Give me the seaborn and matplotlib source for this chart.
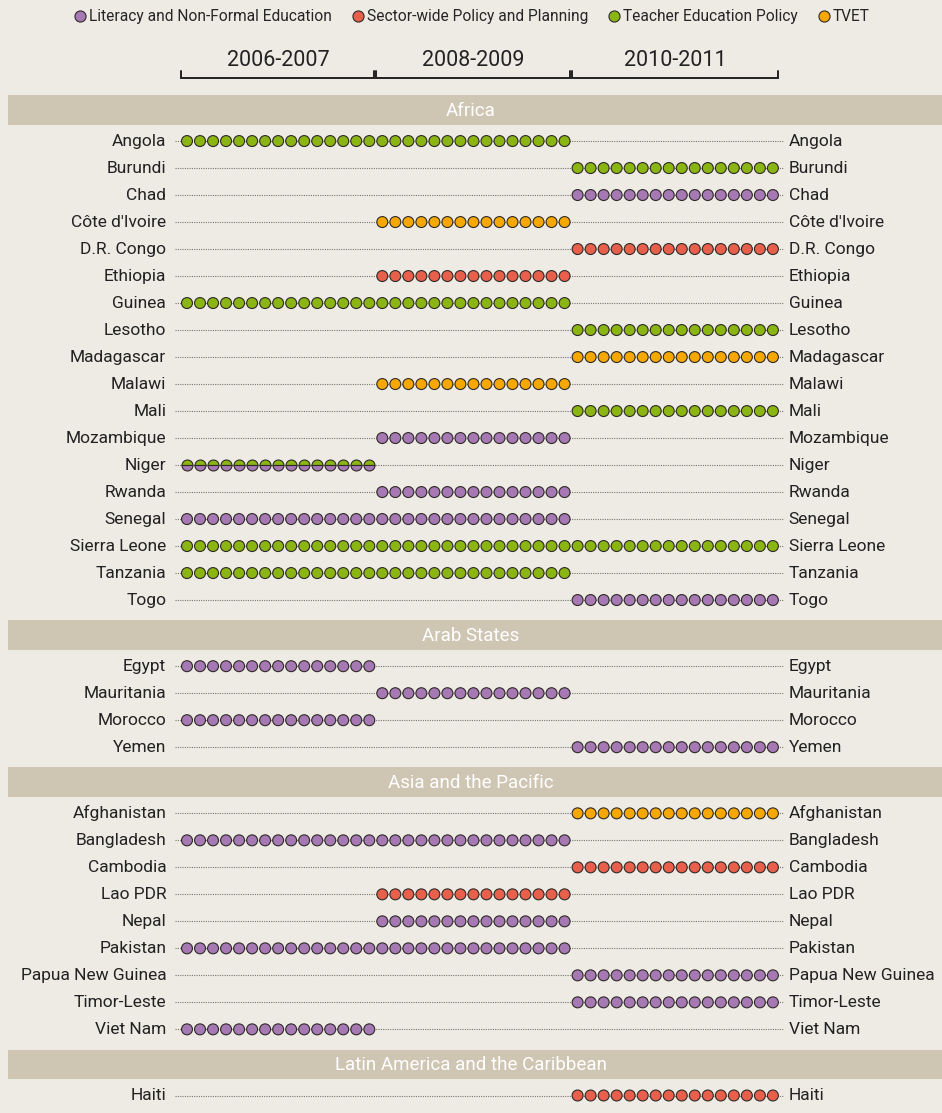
import numpy as np
import pandas as pd
import matplotlib.pyplot as plt
from matplotlib.lines import Line2D
import seaborn as sns

# programme categories (legend order) and colours
categories = ['Literacy and Non-Formal Education', 'Sector-wide Policy and Planning',
              'Teacher Education Policy', 'TVET']
cat_codes = ['L', 'S', 'T', 'V']
colours = ['#A678B4', '#E8604C', '#8BB512', '#F6A800']

periods = ['2006-2007', '2008-2009', '2010-2011']
dots_per_period = [15, 15, 16]

regions = ['Africa', 'Arab States', 'Asia and the Pacific', 'Latin America and the Caribbean']

africa = ['Angola', 'Burundi', 'Chad', "Côte d'Ivoire", 'D.R. Congo', 'Ethiopia', 'Guinea',
          'Lesotho', 'Madagascar', 'Malawi', 'Mali', 'Mozambique', 'Niger', 'Rwanda',
          'Senegal', 'Sierra Leone', 'Tanzania', 'Togo']
africa_prog = ['T', 'T', 'L', 'V', 'S', 'S', 'T', 'T', 'V', 'V', 'T', 'L', 'T/L', 'L',
               'L', 'T', 'T', 'L']
africa_per = ['01', '2', '2', '1', '2', '1', '01', '2', '2', '1', '2', '1', '0', '1',
              '01', '012', '01', '2']

arab = ['Egypt', 'Mauritania', 'Morocco', 'Yemen']
arab_prog = ['L', 'L', 'L', 'L']
arab_per = ['0', '1', '0', '2']

asia = ['Afghanistan', 'Bangladesh', 'Cambodia', 'Lao PDR', 'Nepal', 'Pakistan',
        'Papua New Guinea', 'Timor-Leste', 'Viet Nam']
asia_prog = ['V', 'L', 'S', 'S', 'L', 'L', 'L', 'L', 'L']
asia_per = ['2', '01', '2', '1', '1', '01', '2', '2', '0']

latam = ['Haiti']
latam_prog = ['S']
latam_per = ['2']

region_data = [(africa, africa_prog, africa_per), (arab, arab_prog, arab_per),
               (asia, asia_prog, asia_per), (latam, latam_prog, latam_per)]

# ---- layout in row units
gap_before, gap_after = 1.3, 1.15
band_y = {}
rows = []
y = 0.0
for i, (reg, (names, progs, pers)) in enumerate(zip(regions, region_data)):
    if i > 0:
        y += gap_before
    band_y[reg] = y
    y += gap_after
    for j, (n, p, per) in enumerate(zip(names, progs, pers)):
        rows.append((reg, n, p, per, y))
        if j < len(names) - 1:
            y += 1
countries = pd.DataFrame(rows, columns=['region', 'country', 'prog', 'periods', 'y'])

starts = np.concatenate([[0], np.cumsum(dots_per_period)[:-1]])
dots = []
for _, r in countries.iterrows():
    for k in r['periods']:
        k = int(k)
        for s in range(starts[k], starts[k] + dots_per_period[k]):
            dots.append((r['country'], r['prog'], s, r['y']))
dots = pd.DataFrame(dots, columns=['country', 'prog', 'slot', 'y'])

bg = '#EEEBE5'
band_col = '#CFC5B3'
edge = '#2E2A26'
sns.set_theme(style='white', rc={'axes.facecolor': bg, 'figure.facecolor': bg})
plt.rcParams['font.family'] = ['Roboto', 'DejaVu Sans']

W, H = 942, 1113
px_slot, x0_px = 13.02, 187
unit_px, y0_px = 27.0, 110

fig = plt.figure(figsize=(W / 100, H / 100), dpi=100)
ax = fig.add_axes([0, 0, 1, 1])
ax.set_xlim(-x0_px / px_slot, (W - x0_px) / px_slot)
ax.set_ylim((H - y0_px) / unit_px, -y0_px / unit_px)
ax.axis('off')

n_slots = sum(dots_per_period)
left_x = -1.6
right_x = n_slots - 1 + 1.2

# region bands
for reg in regions:
    yb = band_y[reg]
    ax.axhspan(yb - 0.55, yb + 0.55, xmin=8 / W, xmax=1, color=band_col, lw=0, zorder=1)
    ax.text((W / 2 - x0_px) / px_slot, yb + 0.03, reg, color='white', fontsize=13.5,
            ha='center', va='center', zorder=2)

# dotted guides and labels
for _, r in countries.iterrows():
    ax.plot([-0.92, n_slots - 1 + 0.85], [r['y'], r['y']], color='#7A7570', lw=0.8,
            ls=(0, (1, 1.1)), zorder=2)
    ax.text(left_x, r['y'], r['country'], ha='right', va='center', fontsize=12.5,
            color='#222222')
    ax.text(right_x, r['y'], r['country'], ha='left', va='center', fontsize=12.5,
            color='#222222')

palette = dict(zip(cat_codes, colours))
plain = dots[dots['prog'].isin(cat_codes)]
sns.scatterplot(data=plain, x='slot', y='y', hue='prog', palette=palette, s=62,
                edgecolor=edge, linewidth=0.8, legend=False, ax=ax, zorder=3)

split = dots[dots['prog'] == 'T/L']
ax.plot(split['slot'], split['y'], ls='none', marker='o', markersize=7.9,
        fillstyle='top', markerfacecolor=palette['T'], markerfacecoloralt=palette['L'],
        markeredgecolor=edge, markeredgewidth=0.8, zorder=3)

# period header brackets
top_y = -1.2
for k, lab in enumerate(periods):
    a = starts[k] - 0.45
    b = starts[k] + dots_per_period[k] - 1 + 0.4
    ax.plot([a, a, b, b], [top_y - 0.25, top_y, top_y, top_y - 0.25], color='#222222',
            lw=1.4, solid_joinstyle='miter', zorder=2)
    ax.text((a + b) / 2, -1.85, lab, ha='center', va='center', fontsize=15.5, color='#222222')

handles = [Line2D([], [], ls='none', marker='o', markersize=8, markerfacecolor=c,
                  markeredgecolor=edge, markeredgewidth=0.8) for c in colours]
ax.legend(handles, categories, loc='upper center', bbox_to_anchor=(0.5, 1 - 9 / H),
          ncol=4, frameon=False, fontsize=11.2, handletextpad=0.05, columnspacing=1.2,
          handlelength=1.0, borderaxespad=0, borderpad=0)

plt.savefig('out.png', dpi=100, facecolor=bg)
